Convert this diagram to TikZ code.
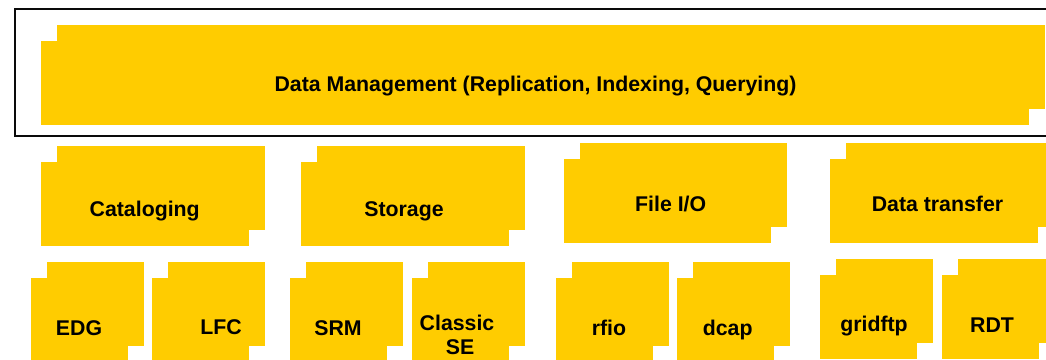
\documentclass[tikz,border=0pt]{standalone}
\usepackage{fontspec}
\setmainfont{Liberation Sans}
\definecolor{layer}{RGB}{255,204,0}
\definecolor{framecol}{RGB}{10,10,10}

% A layer box: a yellow card with a second card shifted up and right behind it.
% #1 name, #2 x, #3 y (top left, y downwards), #4 width, #5 height
\newcommand\layerbox[5]{%
  \fill[layer] ({#2+16},{#3-16}) rectangle ++(#4,#5);
  \node[front, minimum width=#4pt, minimum height=#5pt] (#1) at (#2,#3) {};
}

\begin{document}
\begin{tikzpicture}[x=1pt, y=-1pt,
  front/.style={fill=layer, draw=none, inner sep=0pt, outer sep=0pt, anchor=north west},
  lbl/.style={font=\bfseries\fontsize{21.3}{24}\selectfont, inner sep=0pt, anchor=base},
  frame/.style={draw=framecol, line width=2.2pt}
]
\useasboundingbox (0,0) rectangle (1046,359);
\clip (0,0) rectangle (1046,359);

% outer frame around the top layer
\draw[frame] (15,9.2) rectangle (1070,136);

% top layer
\layerbox{dm}{41}{41}{988}{84}
\node[lbl] (dmtext) at (535.5,91) {Data Management (Replication, Indexing, Querying)};

% middle layer
\layerbox{cat}{41}{162}{208}{84}
\layerbox{sto}{301}{162}{208}{84}
\layerbox{fio}{564}{159}{207}{84}
\layerbox{dt}{830}{159}{208}{84}
\node[lbl] (cattext) at (144.7,216) {Cataloging};
\node[lbl] (stotext) at (404,216) {Storage};
\node[lbl] (fiotext) at (670.7,211.7) {File I/O};
\node[lbl] (dttext) at (937.5,211.7) {Data transfer};

% bottom layer
\layerbox{edg}{31}{278}{97}{84}
\layerbox{lfc}{152}{278}{97}{84}
\layerbox{srm}{290}{278}{97}{84}
\layerbox{cse}{412}{278}{97}{84}
\layerbox{rfio}{556}{278}{97}{84}
\layerbox{dcap}{677}{278}{97}{84}
\layerbox{grid}{820}{275}{97}{84}
\layerbox{rdt}{942}{275}{97}{84}
\node[lbl] (edgtext) at (79,335.7) {EDG};
\node[lbl] (lfctext) at (221,334.5) {LFC};
\node[lbl] (srmtext) at (338,335.7) {SRM};
\node[lbl] (csetext) at (457,330) {Classic};
\node[lbl] (csetext2) at (460,354) {SE};
\node[lbl] (rfiotext) at (609,335.7) {rfio};
\node[lbl] (dcaptext) at (727.7,335.7) {dcap};
\node[lbl] (gridtext) at (874,331.7) {gridftp};
\node[lbl] (rdttext) at (992,332.7) {RDT};
\end{tikzpicture}
\end{document}
